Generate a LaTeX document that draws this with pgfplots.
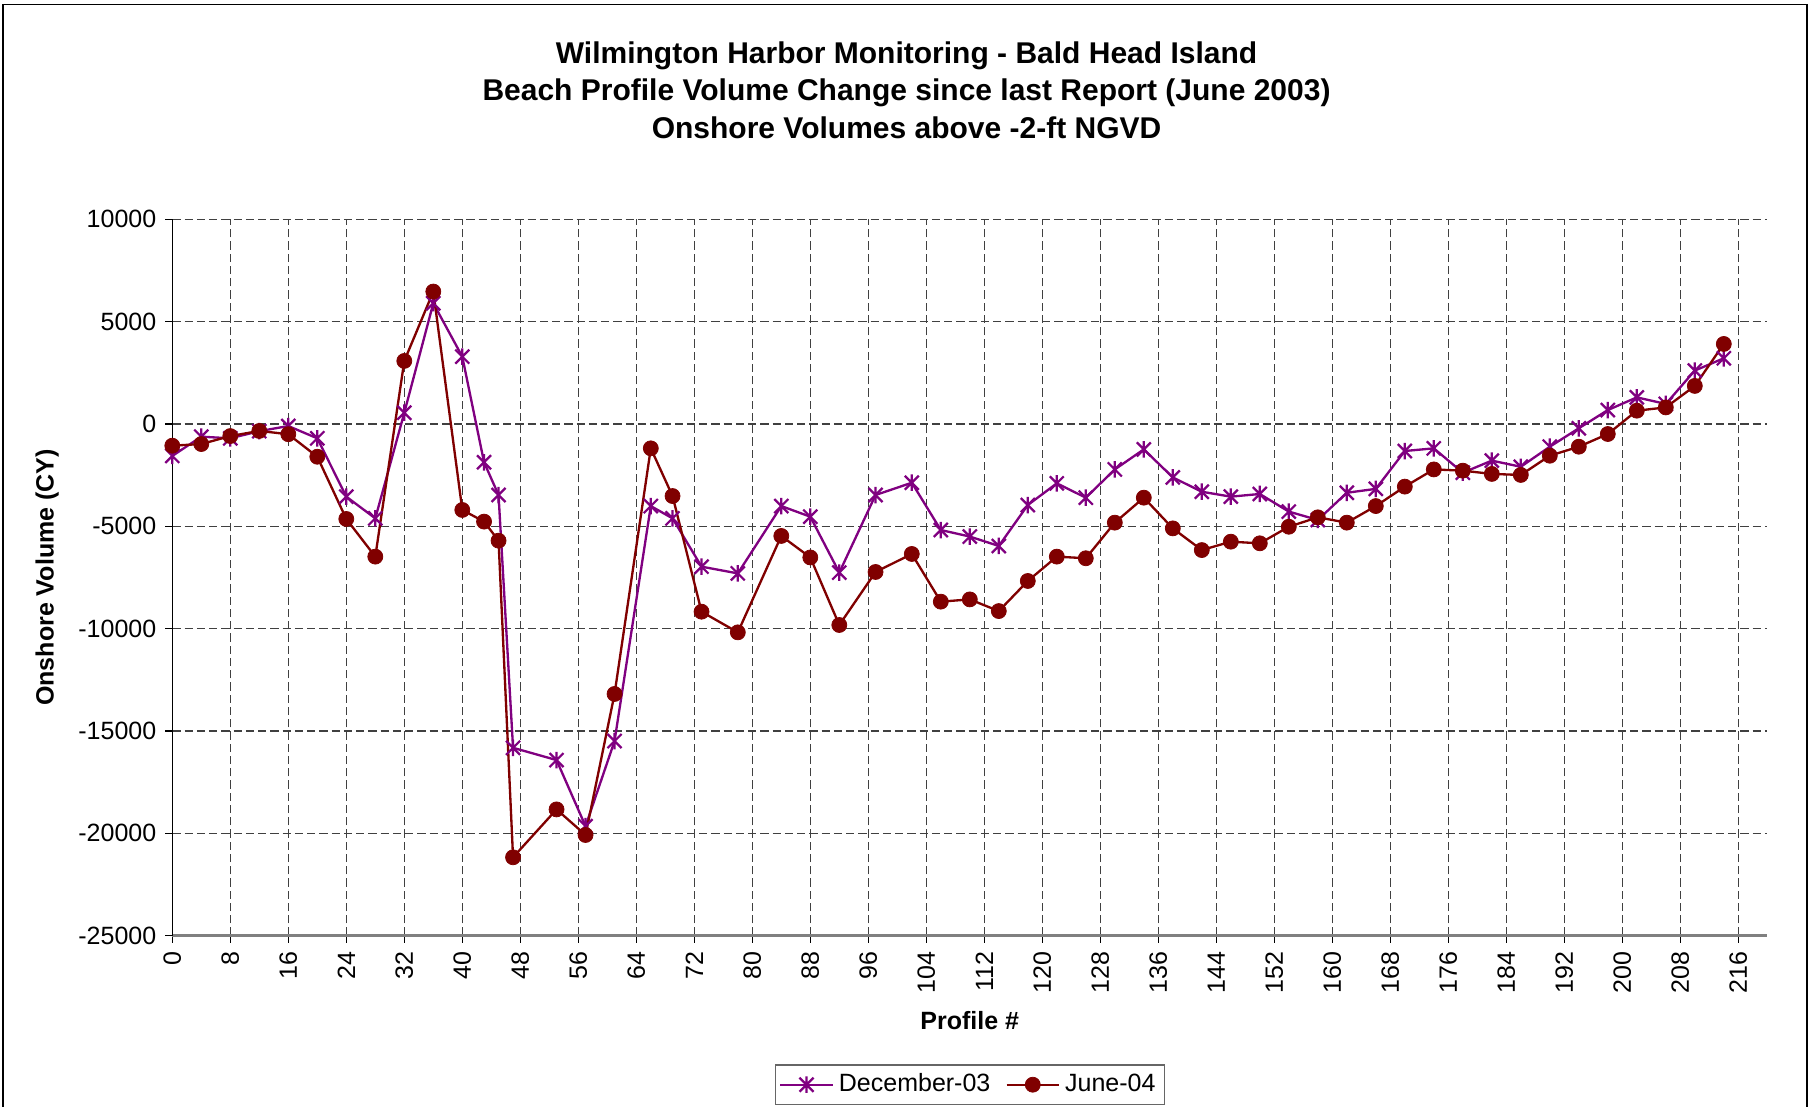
\documentclass[border=0pt]{standalone}
\usepackage{fontspec}
\setmainfont{Liberation Sans}
\usepackage{pgfplots}
\pgfplotsset{compat=1.18}
\definecolor{decc}{HTML}{800080}
\definecolor{junc}{HTML}{800000}
\pgfdeclareplotmark{xlstar}{%
  \pgfpathmoveto{\pgfqpoint{0pt}{\pgfplotmarksize}}%
  \pgfpathlineto{\pgfqpoint{0pt}{-\pgfplotmarksize}}%
  \pgfpathmoveto{\pgfqpoint{-0.85\pgfplotmarksize}{0.85\pgfplotmarksize}}%
  \pgfpathlineto{\pgfqpoint{0.85\pgfplotmarksize}{-0.85\pgfplotmarksize}}%
  \pgfpathmoveto{\pgfqpoint{-0.85\pgfplotmarksize}{-0.85\pgfplotmarksize}}%
  \pgfpathlineto{\pgfqpoint{0.85\pgfplotmarksize}{0.85\pgfplotmarksize}}%
  \pgfusepathqstroke}
\begin{document}
\begin{tikzpicture}
\begin{axis}[
  at={(0,0)}, anchor=south west,
  width=638bp, height=286.56bp, scale only axis,
  xmin=0, xmax=220, ymin=-25000, ymax=10000,
  xtick={0,8,...,216}, ytick={-25000,-20000,...,10000},
  axis x line*=bottom, axis y line*=left,
  x axis line style={draw=black!50, line width=1.1bp},
  y axis line style={draw=black, line width=0.6bp},
  tick align=outside, major tick length=2.9bp,
  tick style={black, line width=0.5bp},
  grid=major,
  major grid style={black!75, line width=0.5bp, dash pattern=on 3.3bp off 1.6bp},
  scaled y ticks=false,
  /pgf/number format/assume math mode=true,
  yticklabel style={/pgf/number format/fixed, /pgf/number format/precision=0, /pgf/number format/1000 sep={}},
  xticklabel style={rotate=90, anchor=east},
  ticklabel style={font=\fontsize{10bp}{12bp}\selectfont},
  xlabel={Profile \#},
  ylabel={Onshore Volume (CY)},
  label style={font=\bfseries\fontsize{10bp}{12bp}\selectfont},
  xlabel style={at={(axis description cs:0.5,-0.119)}, anchor=center},
  ylabel style={at={(axis description cs:-0.0785,0.5)}, anchor=center},
  legend style={at={(0.5,-0.208)}, anchor=center, legend columns=-1,
    draw=black!60, line width=0.5bp, inner sep=1.5bp,
    font=\fontsize{10bp}{12bp}\selectfont,
    /tikz/every even column/.append style={column sep=4bp}},
  legend image code/.code={\draw[mark repeat=2,mark phase=2] plot coordinates {(0bp,0bp) (10.5bp,0bp) (21bp,0bp)};},
]
\addplot[decc, line width=0.93bp, mark=xlstar, mark size=3.3bp, mark options={line width=0.9bp}] coordinates {
(0,-1560) (4,-620) (8,-700) (12,-350) (16,-100) (20,-700) (24,-3550) (28,-4610)
(32,550) (36,5900) (40,3290) (43,-1870) (45,-3470) (47,-15820) (53,-16420) (57,-19650)
(61,-15490) (66,-4010) (69,-4610) (73,-6970) (78,-7300) (84,-4010) (88,-4530) (92,-7260)
(97,-3470) (102,-2870) (106,-5180) (110,-5500) (114,-5960) (118,-3960) (122,-2900) (126,-3600)
(130,-2220) (134,-1240) (138,-2610) (142,-3310) (146,-3550) (150,-3420) (154,-4280) (158,-4690)
(162,-3360) (166,-3170) (170,-1320) (174,-1190) (178,-2380) (182,-1790) (186,-2090) (190,-1110)
(194,-210) (198,680) (202,1300) (206,980) (210,2610) (214,3210)
};
\addlegendentry{December-03}
\addplot[junc, line width=0.93bp, mark=*, mark size=3bp, mark options={fill=junc, draw=junc, line width=0.3bp}] coordinates {
(0,-1060) (4,-980) (8,-590) (12,-340) (16,-500) (20,-1600) (24,-4640) (28,-6480)
(32,3080) (36,6470) (40,-4200) (43,-4770) (45,-5700) (47,-21170) (53,-18830) (57,-20080)
(61,-13190) (66,-1190) (69,-3520) (73,-9170) (78,-10180) (84,-5470) (88,-6520) (92,-9820)
(97,-7230) (102,-6350) (106,-8680) (110,-8570) (114,-9140) (118,-7670) (122,-6480) (126,-6560)
(130,-4820) (134,-3600) (138,-5100) (142,-6160) (146,-5750) (150,-5830) (154,-5020) (158,-4560)
(162,-4820) (166,-4010) (170,-3060) (174,-2220) (178,-2280) (182,-2440) (186,-2490) (190,-1550)
(194,-1110) (198,-490) (202,650) (206,810) (210,1860) (214,3910)
};
\addlegendentry{June-04}
\end{axis}
\node[align=center, font=\bfseries\fontsize{12bp}{15.04bp}\selectfont] at (293.7bp,338.3bp)
  {Wilmington Harbor Monitoring - Bald Head Island\\Beach Profile Volume Change since last Report (June 2003)\\Onshore Volumes above -2-ft NGVD};
\draw[black, line width=0.7bp] (-67.7bp,-90bp) -- (-67.7bp,372.5bp) -- (653.9bp,372.5bp) -- (653.9bp,-90bp);
\pgfresetboundingbox
\path[use as bounding box] (-68.92bp,-68.52bp) rectangle (656.28bp,374.28bp);
\end{tikzpicture}
\end{document}
